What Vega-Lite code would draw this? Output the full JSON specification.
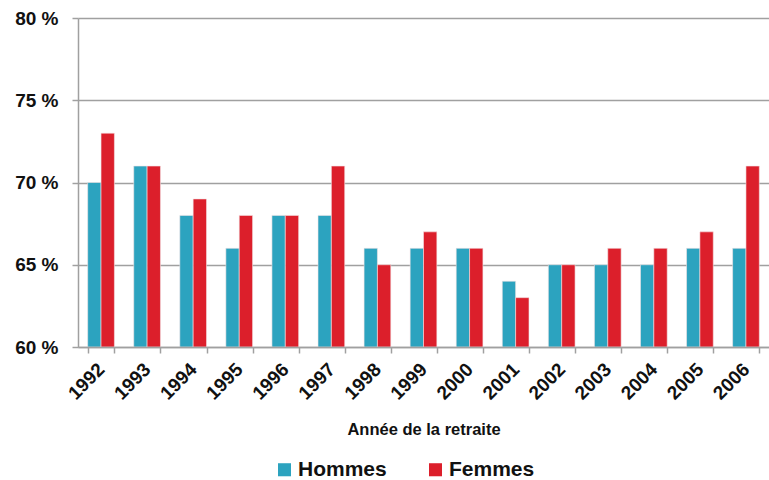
{
  "$schema": "https://vega.github.io/schema/vega-lite/v6.json",
  "width": 691,
  "height": 329,
  "autosize": "none",
  "padding": {"left": 78, "top": 18, "right": 0, "bottom": 133},
  "background": "white",
  "config": {"view": {"stroke": null}, "font": "Liberation Sans"},
  "data": {"values": [
    {"year": "1992", "sex": "Hommes", "v": 70}, {"year": "1992", "sex": "Femmes", "v": 73},
    {"year": "1993", "sex": "Hommes", "v": 71}, {"year": "1993", "sex": "Femmes", "v": 71},
    {"year": "1994", "sex": "Hommes", "v": 68}, {"year": "1994", "sex": "Femmes", "v": 69},
    {"year": "1995", "sex": "Hommes", "v": 66}, {"year": "1995", "sex": "Femmes", "v": 68},
    {"year": "1996", "sex": "Hommes", "v": 68}, {"year": "1996", "sex": "Femmes", "v": 68},
    {"year": "1997", "sex": "Hommes", "v": 68}, {"year": "1997", "sex": "Femmes", "v": 71},
    {"year": "1998", "sex": "Hommes", "v": 66}, {"year": "1998", "sex": "Femmes", "v": 65},
    {"year": "1999", "sex": "Hommes", "v": 66}, {"year": "1999", "sex": "Femmes", "v": 67},
    {"year": "2000", "sex": "Hommes", "v": 66}, {"year": "2000", "sex": "Femmes", "v": 66},
    {"year": "2001", "sex": "Hommes", "v": 64}, {"year": "2001", "sex": "Femmes", "v": 63},
    {"year": "2002", "sex": "Hommes", "v": 65}, {"year": "2002", "sex": "Femmes", "v": 65},
    {"year": "2003", "sex": "Hommes", "v": 65}, {"year": "2003", "sex": "Femmes", "v": 66},
    {"year": "2004", "sex": "Hommes", "v": 65}, {"year": "2004", "sex": "Femmes", "v": 66},
    {"year": "2005", "sex": "Hommes", "v": 66}, {"year": "2005", "sex": "Femmes", "v": 67},
    {"year": "2006", "sex": "Hommes", "v": 66}, {"year": "2006", "sex": "Femmes", "v": 71}
  ]},
  "mark": {"type": "bar", "stroke": "#f4e4e6", "strokeWidth": 0.6, "clip": true},
  "encoding": {
    "x": {
      "field": "year", "type": "nominal", "sort": null,
      "scale": {"paddingInner": 0.42, "paddingOuter": 0.21},
      "axis": {
        "title": "Année de la retraite", "titleFontSize": 16.5, "titleFontWeight": "bold",
        "titleColor": "#111", "titlePadding": 19,
        "labelAngle": -45, "labelAlign": "right", "labelBaseline": "middle",
        "labelFontSize": 19, "labelFontWeight": "bold", "labelColor": "#111",
        "labelPadding": 13,
        "tickBand": "extent", "tickSize": 6, "tickColor": "#a0a0a0", "tickWidth": 1.5,
        "domainColor": "#a0a0a0", "domainWidth": 1.5, "grid": false, "zindex": 1
      }
    },
    "xOffset": {"field": "sex", "type": "nominal", "sort": ["Hommes", "Femmes"], "scale": {"paddingInner": 0}},
    "y": {
      "field": "v", "type": "quantitative",
      "scale": {"domain": [60, 80], "nice": false, "zero": false},
      "axis": {
        "title": null, "values": [60, 65, 70, 75, 80],
        "labelExpr": "datum.value + ' %'",
        "labelFontSize": 19, "labelFontWeight": "bold", "labelColor": "#111", "labelPadding": 14,
        "tickSize": 6, "tickColor": "#a0a0a0", "tickWidth": 1.5,
        "domainColor": "#a0a0a0", "domainWidth": 1.5,
        "gridColor": "#a0a0a0", "gridWidth": 1.5
      }
    },
    "y2": {"datum": 60},
    "color": {
      "field": "sex", "type": "nominal", "sort": ["Hommes", "Femmes"],
      "scale": {"domain": ["Hommes", "Femmes"], "range": ["#2ca3bf", "#dc1f2b"]},
      "legend": {
        "orient": "none", "legendX": 196, "legendY": 441, "direction": "horizontal", "title": null,
        "labelFontSize": 21, "labelFontWeight": "bold", "labelColor": "#111",
        "symbolType": "square", "symbolSize": 170, "symbolStrokeWidth": 0,
        "columnPadding": 38, "labelOffset": 3
      }
    }
  }
}
